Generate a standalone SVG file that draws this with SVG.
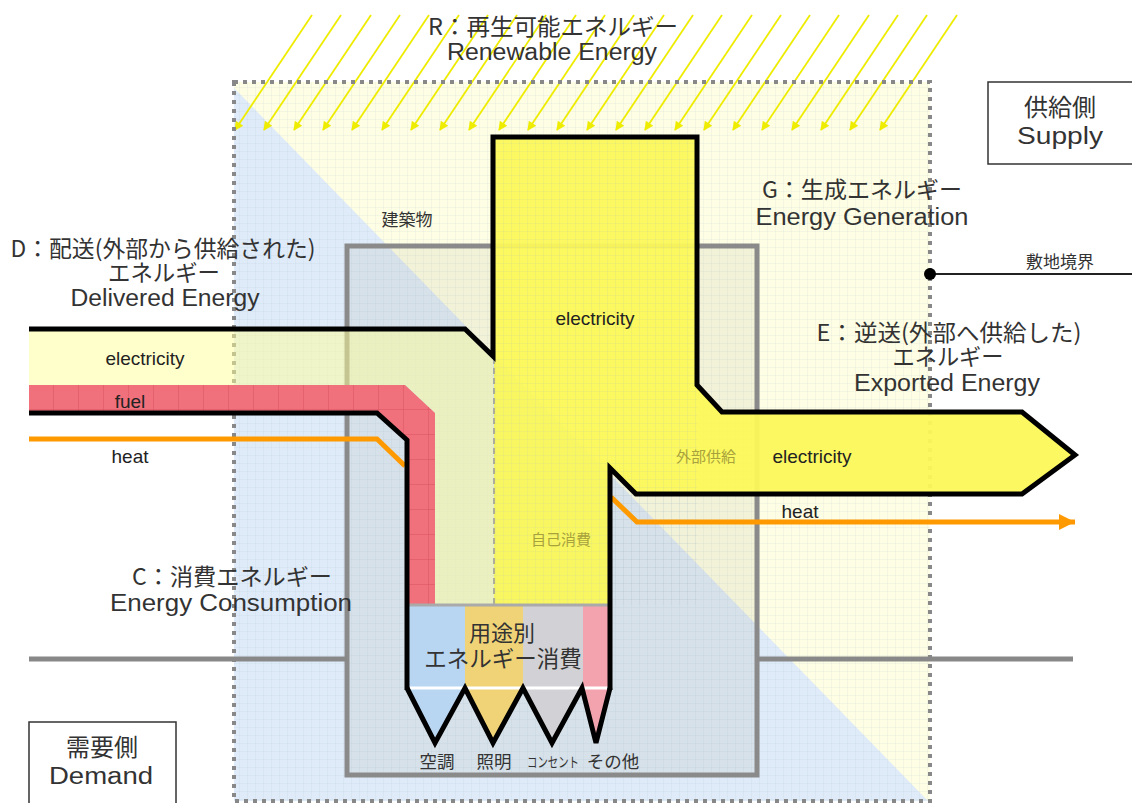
<svg xmlns="http://www.w3.org/2000/svg" width="1132" height="803" viewBox="0 0 1132 803">
<defs>
<style>
.jp{font-family:"Noto Sans CJK JP","Noto Sans",sans-serif;fill:#333;}
.big{font-size:23px;}
.lat{font-family:"Liberation Sans",Arial,sans-serif;font-size:23px;fill:#333;}
.mid{font-size:17px;}
.en{font-family:"Liberation Sans",Arial,sans-serif;font-size:19px;fill:#222;}
.olive{font-family:"Noto Sans CJK JP",sans-serif;font-size:15px;fill:#a8a23c;}
.outline{fill:none;stroke:#000;stroke-width:5;stroke-linejoin:miter;}
.heat{fill:none;stroke:#ff9900;stroke-width:5;}
.ray{stroke:#eeec00;stroke-width:1.8;}
.box{fill:#fff;stroke:#333;stroke-width:1.5;}
</style>
<pattern id="grid" width="8" height="8" patternUnits="userSpaceOnUse">
<path d="M8 0V8M0 8H8" fill="none" stroke="#9fb4cc" stroke-width="0.6" opacity="0.35"/>
</pattern>
<pattern id="fuelgrid" width="25" height="25" patternUnits="userSpaceOnUse" x="4" y="385">
<rect width="25" height="25" fill="#f0707c"/>
<path d="M25 0V25M0 25H25" fill="none" stroke="#d9525f" stroke-width="1"/>
</pattern>
<marker id="rayhead" viewBox="0 0 10 10" refX="9" refY="5" markerWidth="13" markerHeight="9" markerUnits="userSpaceOnUse" orient="auto">
<path d="M0 0L10 5L0 10z" fill="#eeec00"/>
</marker>
<marker id="heathead" viewBox="0 0 10 10" refX="10" refY="5" markerWidth="16" markerHeight="16" markerUnits="userSpaceOnUse" orient="auto">
<path d="M0 0L10 5L0 10z" fill="#ff9900"/>
</marker>
<clipPath id="siteclip"><rect x="234" y="82" width="696" height="719"/></clipPath>
</defs>
<rect width="1132" height="803" fill="#fff"/>

<g id="site-background" clip-path="url(#siteclip)">
<rect x="234" y="82" width="696" height="719" fill="#fefee4"/>
<polygon points="234,88 930,803 234,803" fill="#dfebf8"/>
<rect x="234" y="82" width="696" height="719" fill="url(#grid)"/>
</g>

<g id="rays">
<line class="ray" x1="312" y1="15" x2="235" y2="130" marker-end="url(#rayhead)"/>
<line class="ray" x1="341" y1="15" x2="264" y2="130" marker-end="url(#rayhead)"/>
<line class="ray" x1="371" y1="15" x2="294" y2="130" marker-end="url(#rayhead)"/>
<line class="ray" x1="400" y1="15" x2="323" y2="130" marker-end="url(#rayhead)"/>
<line class="ray" x1="429" y1="15" x2="352" y2="130" marker-end="url(#rayhead)"/>
<line class="ray" x1="459" y1="15" x2="382" y2="130" marker-end="url(#rayhead)"/>
<line class="ray" x1="488" y1="15" x2="411" y2="130" marker-end="url(#rayhead)"/>
<line class="ray" x1="517" y1="15" x2="440" y2="130" marker-end="url(#rayhead)"/>
<line class="ray" x1="546" y1="15" x2="469" y2="130" marker-end="url(#rayhead)"/>
<line class="ray" x1="576" y1="15" x2="499" y2="130" marker-end="url(#rayhead)"/>
<line class="ray" x1="605" y1="15" x2="528" y2="130" marker-end="url(#rayhead)"/>
<line class="ray" x1="634" y1="15" x2="557" y2="130" marker-end="url(#rayhead)"/>
<line class="ray" x1="664" y1="15" x2="587" y2="130" marker-end="url(#rayhead)"/>
<line class="ray" x1="693" y1="15" x2="616" y2="130" marker-end="url(#rayhead)"/>
<line class="ray" x1="722" y1="15" x2="645" y2="130" marker-end="url(#rayhead)"/>
<line class="ray" x1="752" y1="15" x2="675" y2="130" marker-end="url(#rayhead)"/>
<line class="ray" x1="781" y1="15" x2="704" y2="130" marker-end="url(#rayhead)"/>
<line class="ray" x1="810" y1="15" x2="733" y2="130" marker-end="url(#rayhead)"/>
<line class="ray" x1="839" y1="15" x2="762" y2="130" marker-end="url(#rayhead)"/>
<line class="ray" x1="869" y1="15" x2="792" y2="130" marker-end="url(#rayhead)"/>
<line class="ray" x1="898" y1="15" x2="821" y2="130" marker-end="url(#rayhead)"/>
<line class="ray" x1="927" y1="15" x2="850" y2="130" marker-end="url(#rayhead)"/>
<line class="ray" x1="957" y1="15" x2="880" y2="130" marker-end="url(#rayhead)"/>
</g>

<g id="site-boundary">
<rect x="234" y="82" width="696" height="719" fill="none" stroke="#888" stroke-width="4" stroke-dasharray="4 5"/>
<line x1="930" y1="274" x2="1132" y2="274" stroke="#222" stroke-width="2"/>
<circle cx="930" cy="274" r="6" fill="#000"/>
<text class="jp mid" x="1060" y="268" text-anchor="middle">敷地境界</text>
</g>

<g id="building">
<rect x="347" y="246" width="410" height="529" fill="#9a9a80" fill-opacity="0.12" stroke="#8a8a8a" stroke-width="5"/>
<text class="jp mid" x="407" y="226" text-anchor="middle">建築物</text>
</g>

<g id="demand-line">
<line x1="29" y1="659" x2="347" y2="659" stroke="#888" stroke-width="5"/>
<line x1="757" y1="659" x2="1073" y2="659" stroke="#888" stroke-width="5"/>
</g>

<g id="connectors">
<polygon id="delivered-electricity" points="29,329 465,329 493,356 494,605 435,605 435,413 405,385 29,385" fill="#ffff9a" fill-opacity="0.5"/>
<polygon id="fuel" points="29,385 405,385 435,413 435,605 407,605 407,440 377,413 29,413" fill="url(#fuelgrid)"/>
<polygon id="generation" points="493,137 697,137 697,385 722,412 1022,412 1075,455 1022,494 636,494 610,468 610,605 494,605 494,356" fill="#fbf85a" fill-opacity="0.95"/>
<rect x="493" y="137" width="204" height="468" fill="url(#grid)"/>
<line x1="494" y1="358" x2="494" y2="605" stroke="#999" stroke-width="1.5" stroke-dasharray="6 4"/>
<path class="heat" d="M29,439 H377 L405,466"/>
<path class="heat" d="M611,497 L637,522 H1075" marker-end="url(#heathead)"/>
</g>

<g id="end-use">
<rect x="407" y="605" width="58" height="83" fill="#b8d5f2"/>
<rect x="465" y="605" width="58" height="83" fill="#f1d377"/>
<rect x="523" y="605" width="60" height="83" fill="#d2d2d6"/>
<rect x="583" y="605" width="27" height="83" fill="#f2a3ad"/>
<polygon points="407,688 465,688 435,743" fill="#b8d5f2"/>
<polygon points="465,688 523,688 493,743" fill="#f1d377"/>
<polygon points="523,688 582,688 552,743" fill="#d2d2d6"/>
<polygon points="582,688 610,688 596,743" fill="#f2a3ad"/>
<line x1="407" y1="605" x2="610" y2="605" stroke="#aaa" stroke-width="3"/>
<line x1="407" y1="688" x2="610" y2="688" stroke="#fff" stroke-width="3"/>
<path class="outline" d="M407,688 L435,743 L465,688 L493,743 L523,688 L552,743 L582,688 L596,743 L610,688"/>
<text class="jp" font-size="22" x="502" y="641" text-anchor="middle">用途別</text>
<text class="jp" font-size="22.5" x="503" y="667" text-anchor="middle">エネルギー消費</text>
<text class="jp" font-size="17.5" x="437" y="768" text-anchor="middle">空調</text>
<text class="jp" font-size="17.5" x="494" y="768" text-anchor="middle">照明</text>
<text class="jp" font-size="14" x="553" y="767" text-anchor="middle" textLength="52" lengthAdjust="spacingAndGlyphs">コンセント</text>
<text class="jp" font-size="17.5" x="613" y="768" text-anchor="middle">その他</text>
</g>

<g id="outlines">
<path class="outline" d="M29,329 H465 L493,356 V137 H697 V385 L722,412 H1022 L1075,455 L1022,494 H636 L610,468 V690"/>
<path class="outline" d="M29,413 H377 L407,440 V690"/>
</g>

<g id="flow-labels">
<text class="en" x="145" y="365" text-anchor="middle">electricity</text>
<text class="en" x="130" y="408" text-anchor="middle">fuel</text>
<text class="en" x="130" y="463" text-anchor="middle">heat</text>
<text class="en" x="595" y="325" text-anchor="middle">electricity</text>
<text class="en" x="812" y="463" text-anchor="middle">electricity</text>
<text class="en" x="800" y="518" text-anchor="middle">heat</text>
<text class="olive" x="561" y="545" text-anchor="middle">自己消費</text>
<text class="olive" x="706" y="462" text-anchor="middle">外部供給</text>
</g>

<g id="label-R">
<text class="jp big" x="553" y="35" text-anchor="middle" textLength="250" lengthAdjust="spacingAndGlyphs">R：再生可能エネルギー</text>
<text class="lat" x="552" y="60" text-anchor="middle" textLength="210" lengthAdjust="spacingAndGlyphs">Renewable Energy</text>
</g>
<g id="label-G">
<text class="jp big" x="862" y="198" text-anchor="middle" textLength="200" lengthAdjust="spacingAndGlyphs">G：生成エネルギー</text>
<text class="lat" x="862" y="225" text-anchor="middle" textLength="213" lengthAdjust="spacingAndGlyphs">Energy Generation</text>
</g>
<g id="label-D">
<text class="jp big" x="163" y="257" text-anchor="middle" textLength="305" lengthAdjust="spacingAndGlyphs">D：配送(外部から供給された)</text>
<text class="jp big" x="164" y="281" text-anchor="middle" textLength="112" lengthAdjust="spacingAndGlyphs">エネルギー</text>
<text class="lat" x="165" y="306" text-anchor="middle" textLength="189" lengthAdjust="spacingAndGlyphs">Delivered Energy</text>
</g>
<g id="label-E">
<text class="jp big" x="949" y="341" text-anchor="middle" textLength="265" lengthAdjust="spacingAndGlyphs">E：逆送(外部へ供給した)</text>
<text class="jp big" x="948" y="365" text-anchor="middle" textLength="111" lengthAdjust="spacingAndGlyphs">エネルギー</text>
<text class="lat" x="947" y="391" text-anchor="middle" textLength="186" lengthAdjust="spacingAndGlyphs">Exported Energy</text>
</g>
<g id="label-C">
<text class="jp big" x="232" y="585" text-anchor="middle" textLength="200" lengthAdjust="spacingAndGlyphs">C：消費エネルギー</text>
<text class="lat" x="231" y="611" text-anchor="middle" textLength="242" lengthAdjust="spacingAndGlyphs">Energy Consumption</text>
</g>

<g id="supply-box">
<rect class="box" x="988" y="82" width="150" height="82"/>
<text class="jp" font-size="24" x="1060" y="116" text-anchor="middle">供給側</text>
<text class="lat" font-size="24" x="1060" y="144" text-anchor="middle" textLength="86" lengthAdjust="spacingAndGlyphs">Supply</text>
</g>
<g id="demand-box">
<rect class="box" x="29" y="722" width="147" height="90"/>
<text class="jp" font-size="24" x="102" y="756" text-anchor="middle">需要側</text>
<text class="lat" font-size="24" x="101" y="784" text-anchor="middle" textLength="104" lengthAdjust="spacingAndGlyphs">Demand</text>
</g>
</svg>
